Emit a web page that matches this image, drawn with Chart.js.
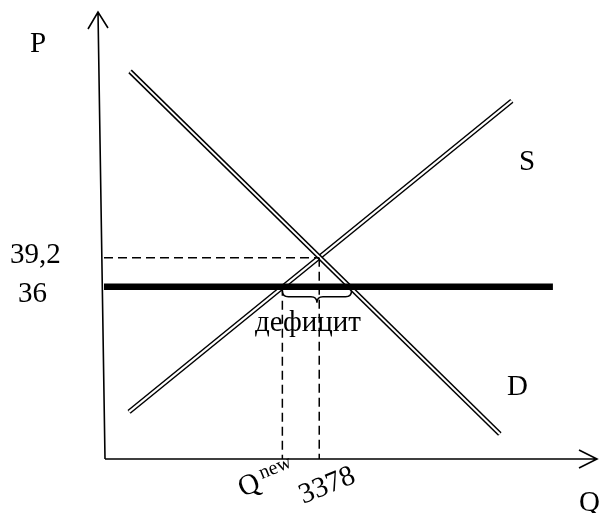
<!DOCTYPE html>
<html lang="ru">
<head>
<meta charset="utf-8">
<title>Дефицит при фиксированной цене</title>
<script src="https://cdn.jsdelivr.net/npm/chart.js@4.4.1/dist/chart.umd.min.js"></script>
<style>
  html, body { margin: 0; padding: 0; background: #fff; }
  canvas { display: block; }
</style>
</head>
<body>
<canvas id="market" width="611" height="513"></canvas>
<script>
// ── данные графика ───────────────────────────────────────────────
const qRange   = [1230, 6150];          // ось Q
const pRange   = [17, 66.3];            // ось P
const supplyQ  = [1480, 5300];          // S
const supplyP  = [22.2, 56.5];
const demandQ  = [1490, 5180];          // D
const demandP  = [59.75, 19.75];
const eqQ = 3378, eqP = 39.2;           // равновесие
const ceilingP = 36;                    // фиксированная цена
const ceilingQ = [1230, 5710];
const qNew = 3010, qDemand = 3700;      // объём предложения / спроса при P = 36
const pTicks      = [39.2, 36];
const pTickLabels = ["39,2", "36"];
const qTicks      = [qNew, eqQ];
const qTickLabels = ["Q", "3378"];

const FONT = '"Liberation Serif", "Times New Roman", serif';

function pts(xs, ys) { return xs.map((x, i) => ({ x: x, y: ys[i] })); }

function doubleLine(xs, ys, order) {
  return [
    { data: pts(xs, ys), borderColor: "#000", borderWidth: 5, order: order + 1 },
    { data: pts(xs, ys), borderColor: "#fff", borderWidth: 2, order: order }
  ];
}

const dashed = { borderColor: "#000", borderWidth: 1.5, borderDash: [9, 5], order: 2 };

// ── оси, подписи, скобка ─────────────────────────────────────────
const decor = {
  id: "decor",
  beforeDatasetsDraw(chart) {
    const a = chart.chartArea, ctx = chart.ctx;
    ctx.save();
    ctx.strokeStyle = "#000";
    ctx.lineWidth = 1.6;
    const yTop = { x: a.left - 6, y: a.top };
    const yBot = { x: a.left + 1, y: a.bottom };
    ctx.beginPath();
    ctx.moveTo(yBot.x, yBot.y); ctx.lineTo(yTop.x, yTop.y);
    ctx.moveTo(yTop.x - 10, yTop.y + 17); ctx.lineTo(yTop.x, yTop.y); ctx.lineTo(yTop.x + 10, yTop.y + 16);
    ctx.moveTo(yBot.x, a.bottom); ctx.lineTo(a.right, a.bottom);
    ctx.moveTo(a.right - 18, a.bottom - 9); ctx.lineTo(a.right, a.bottom); ctx.lineTo(a.right - 18, a.bottom + 9);
    ctx.stroke();
    ctx.restore();
  },
  afterDraw(chart) {
    const a = chart.chartArea, ctx = chart.ctx;
    const xs = chart.scales.x, ys = chart.scales.y;
    ctx.save();
    ctx.fillStyle = "#000";
    ctx.strokeStyle = "#000";
    ctx.font = "29px " + FONT;
    ctx.textAlign = "left";
    ctx.textBaseline = "alphabetic";

    ctx.fillText("P", 30, 52);
    ctx.fillText("S", 519, 170);
    ctx.fillText("D", 507, 395);
    ctx.fillText("Q", 579, 511);

    // метки цены
    ctx.fillText(pTickLabels[0], 10, ys.getPixelForValue(pTicks[0]) + 5.5);
    ctx.fillText(pTickLabels[1], 18, ys.getPixelForValue(pTicks[1]) + 15);

    // фигурная скобка дефицита
    const py = ys.getPixelForValue(ceilingP) + 4;
    const x1 = xs.getPixelForValue(qNew), x2 = xs.getPixelForValue(qDemand);
    const xm = (x1 + x2) / 2, h = 12, r = 6;
    ctx.lineWidth = 1.5;
    ctx.beginPath();
    ctx.moveTo(x1, py);
    ctx.quadraticCurveTo(x1, py + h / 2, x1 + r, py + h / 2);
    ctx.lineTo(xm - r, py + h / 2);
    ctx.quadraticCurveTo(xm, py + h / 2, xm, py + h);
    ctx.quadraticCurveTo(xm, py + h / 2, xm + r, py + h / 2);
    ctx.lineTo(x2 - r, py + h / 2);
    ctx.quadraticCurveTo(x2, py + h / 2, x2, py);
    ctx.stroke();
    ctx.textAlign = "center";
    ctx.fillText("дефицит", xm - 9, py + 40);

    // наклонные метки на оси Q
    const ang = -22 * Math.PI / 180;
    ctx.textBaseline = "middle";
    ctx.save();
    ctx.translate(xs.getPixelForValue(qTicks[0]) - 33, a.bottom + 27);
    ctx.rotate(ang);
    ctx.fillText(qTickLabels[0], 0, 0);
    ctx.font = "20px " + FONT;
    ctx.textAlign = "left";
    ctx.fillText("new", 14, -7);
    ctx.restore();

    ctx.save();
    ctx.translate(xs.getPixelForValue(qTicks[1]) + 8, a.bottom + 27);
    ctx.rotate(ang);
    ctx.fillText(qTickLabels[1], 0, 0);
    ctx.restore();

    ctx.restore();
  }
};

new Chart(document.getElementById("market").getContext("2d"), {
  type: "scatter",
  data: {
    datasets: [
      ...doubleLine(supplyQ, supplyP, 9),
      ...doubleLine(demandQ, demandP, 6),
      Object.assign({ data: pts([qRange[0], eqQ], [eqP, eqP]) }, dashed),
      Object.assign({ data: pts([eqQ, eqQ], [eqP, pRange[0]]) }, dashed),
      Object.assign({ data: pts([qNew, qNew], [ceilingP, pRange[0]]) }, dashed),
      { data: pts(ceilingQ, [ceilingP, ceilingP]), borderColor: "#000", borderWidth: 6.5, order: 1 }
    ].map(d => Object.assign({ showLine: true, pointRadius: 0, clip: false }, d))
  },
  options: {
    responsive: false,
    animation: false,
    layout: { padding: { left: 104, right: 14, top: 12, bottom: 54 } },
    plugins: { legend: { display: false }, tooltip: { enabled: false } },
    scales: {
      x: { type: "linear", min: qRange[0], max: qRange[1], display: false },
      y: { type: "linear", min: pRange[0], max: pRange[1], display: false }
    }
  },
  plugins: [decor]
});
</script>
</body>
</html>
